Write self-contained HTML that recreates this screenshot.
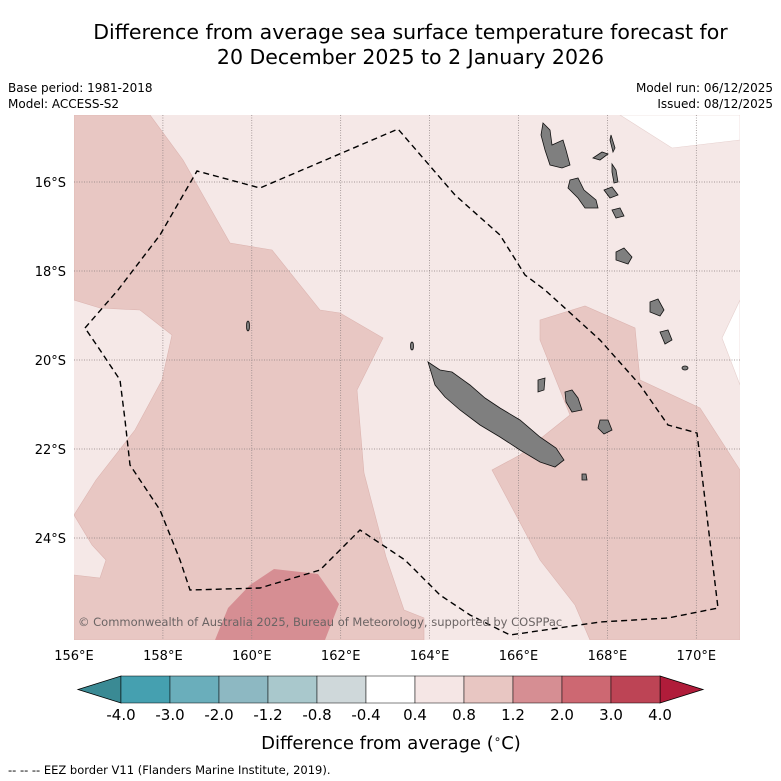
<!DOCTYPE html>
<html><head><meta charset="utf-8"><style>
body{margin:0;background:#fff;font-family:"Liberation Sans","DejaVu Sans",sans-serif;}
#wrap{position:relative;width:781px;height:781px;overflow:hidden;background:#fff}
.t{position:absolute;white-space:nowrap;color:#000}
</style></head><body>
<div id="wrap">
<div class="t" style="left:0;width:821px;top:20px;text-align:center;font-size:20.5px;line-height:25px;font-family:'DejaVu Sans',sans-serif">Difference from average sea surface temperature forecast for<br>20 December 2025 to 2 January 2026</div>
<div class="t" style="left:8px;top:80px;font-size:12px;line-height:16px;font-family:'DejaVu Sans',sans-serif">Base period: 1981-2018<br>Model: ACCESS-S2</div>
<div class="t" style="right:8px;top:80px;font-size:12px;line-height:16px;text-align:right;font-family:'DejaVu Sans',sans-serif">Model run: 06/12/2025<br>Issued: 08/12/2025</div>
<svg id="svg" width="781" height="781" style="position:absolute;left:0;top:0" font-family="DejaVu Sans, sans-serif">
<defs><clipPath id="mc"><rect x="74" y="115" width="666" height="525"/></clipPath></defs>
<g clip-path="url(#mc)">
<rect x="74" y="115" width="666" height="525" fill="#f5e8e7"/>
<polygon fill="#ffffff" stroke="#e6d0ce" stroke-width="0.6" points="620,115 672,148 740,140 740,115"/>
<polygon fill="#ffffff" stroke="#e6d0ce" stroke-width="0.6" points="740,300 722,338 740,385"/>
<polygon fill="#e8c7c3" stroke="#dcb4b0" stroke-width="0.6" points="74,115 150,115 183,160 230,243 272,250 320,310 340,313 383,338 357,390 364,473 386,557 404,610 424,618 424,640 74,640 74,575 100,578 106,560 92,545 74,515 96,480 135,430 162,380 172,335 140,310 100,308 74,300"/>
<polygon fill="#e8c7c3" stroke="#dcb4b0" stroke-width="0.6" points="540,320 585,306 635,328 640,380 700,408 740,470 740,640 590,640 575,605 540,560 492,470 520,455 570,415 540,340"/>
<polygon fill="#d68e93" points="215,640 228,608 250,585 274,569 318,574 339,604 325,640"/>
</g>
<g id="grid" stroke="#8a7f7f" stroke-width="0.7" stroke-dasharray="1,1.5"></g>
<g fill="#7f7f7f" stroke="#111" stroke-width="0.8">
<polygon points="428,362 440,370 452,372 470,385 485,398 500,408 520,420 540,437 556,448 564,460 555,467 540,462 520,450 500,437 480,425 460,410 445,397 435,385"/>
<polygon points="543,123 550,130 552,145 563,140 566,150 570,165 562,168 550,165 545,150 541,135"/>
<polygon points="570,180 578,178 584,190 596,200 598,208 585,208 578,198 568,188"/>
<polygon points="604,190 612,187 618,195 610,198"/>
<polygon points="616,252 624,248 632,257 628,264 616,260"/>
<polygon points="611,135 615,148 613,152 610,140"/>
<polygon points="612,164 616,170 618,182 614,183 612,172"/>
<polygon points="593,158 602,152 608,154 600,160"/>
<polygon points="612,210 620,208 624,216 616,218"/>
<polygon points="565,392 572,390 578,398 582,410 572,412 566,402"/>
<polygon points="600,420 608,420 612,430 604,434 598,428"/>
<polygon points="538,380 545,378 544,390 538,392"/>
<polygon points="650,302 658,299 664,310 660,316 650,312"/>
<polygon points="660,332 668,330 672,340 665,344"/>
<polygon points="582,474 586,474 587,480 582,480"/>
<ellipse cx="685" cy="368" rx="3" ry="2"/>
<ellipse cx="248" cy="326" rx="1.5" ry="5"/>
<ellipse cx="412" cy="346" rx="1.5" ry="4"/>
</g>
<polyline fill="none" stroke="#000" stroke-width="1.4" stroke-dasharray="6,4" points="85,328 118,290 160,235 197,171 260,188 398,129 455,195 500,235 525,275 545,290 600,340 640,385 668,425 697,433 705,500 718,608 668,618 600,622 510,635 470,615 440,595 405,560 360,530 320,570 260,588 190,590 180,560 160,510 130,465 125,420 120,380 100,350 85,328"/>
<text x="78" y="626" font-size="11.5" fill="#6b6464">© Commonwealth of Australia 2025, Bureau of Meteorology, supported by COSPPac</text>
<g id="axes" font-size="13" fill="#000"></g>
<g id="cbar"></g>
<text x="391" y="749" font-size="18" text-anchor="middle">Difference from average (<tspan font-size="12" dy="-6">∘</tspan><tspan dy="6">C)</tspan></text>
<text x="8" y="774" font-size="11.5">--  --  -- EEZ border V11 (Flanders Marine Institute, 2019).</text>
</svg>
</div>
<script>
const lonTicks=[156,158,160,162,164,166,168,170];
const latTicks=[16,18,20,22,24];
const cbBounds=[-4.0,-3.0,-2.0,-1.2,-0.8,-0.4,0.4,0.8,1.2,2.0,3.0,4.0];
const cbLabels=["-4.0","-3.0","-2.0","-1.2","-0.8","-0.4","0.4","0.8","1.2","2.0","3.0","4.0"];
const cbColors=["#45a0b0","#6aaebb","#8db8c2","#a9c8cc","#cfd8da","#ffffff","#f5e6e5","#e8c6c2","#d68e93","#cd6872","#bd4455"];
const cbLow="#3a8a94", cbHigh="#b01c3a";
const NS="http://www.w3.org/2000/svg";
const xLon=l=>74+(l-156)*44.45;
const yLat=l=>182+(l-16)*44.5;
function mk(t,a,p){const e=document.createElementNS(NS,t);for(const k in a)e.setAttribute(k,a[k]);p.appendChild(e);return e;}
const grid=document.getElementById('grid'),axes=document.getElementById('axes'),cb=document.getElementById('cbar');
lonTicks.forEach(l=>{const x=xLon(l);
 if(l>156){const g=mk('line',{x1:x,x2:x,y1:115,y2:640},grid);}
 const t=mk('text',{x:x,y:660,'text-anchor':'middle'},axes);t.textContent=l+'°E';
 });
latTicks.forEach(l=>{const y=yLat(l);
 const g=mk('line',{x1:74,x2:740,y1:y,y2:y},grid);
 const t=mk('text',{x:66,y:y+5,'text-anchor':'end'},axes);t.textContent=l+'°S';
 });
const cx0=121,cw=49,cy=676,ch=27;
const cbX=i=>cx0+i*cw;
const lt=mk('polygon',{points:`78,${cy+ch/2} ${cx0},${cy} ${cx0},${cy+ch}`,fill:cbLow,stroke:'#000','stroke-width':0.8},cb);

const ht=mk('polygon',{points:`${cbX(cbColors.length)},${cy} 703,${cy+ch/2} ${cbX(cbColors.length)},${cy+ch}`,fill:cbHigh,stroke:'#000','stroke-width':0.8},cb);

cbColors.forEach((c,i)=>{const r=mk('rect',{x:cbX(i),y:cy,width:cw,height:ch,fill:c,stroke:'#000','stroke-width':0.5},cb);
 });
cbBounds.forEach((b,i)=>{const t=mk('text',{x:cbX(i),y:720,'text-anchor':'middle','font-size':15},cb);t.textContent=cbLabels[i];
 });
</script>
</body></html>
